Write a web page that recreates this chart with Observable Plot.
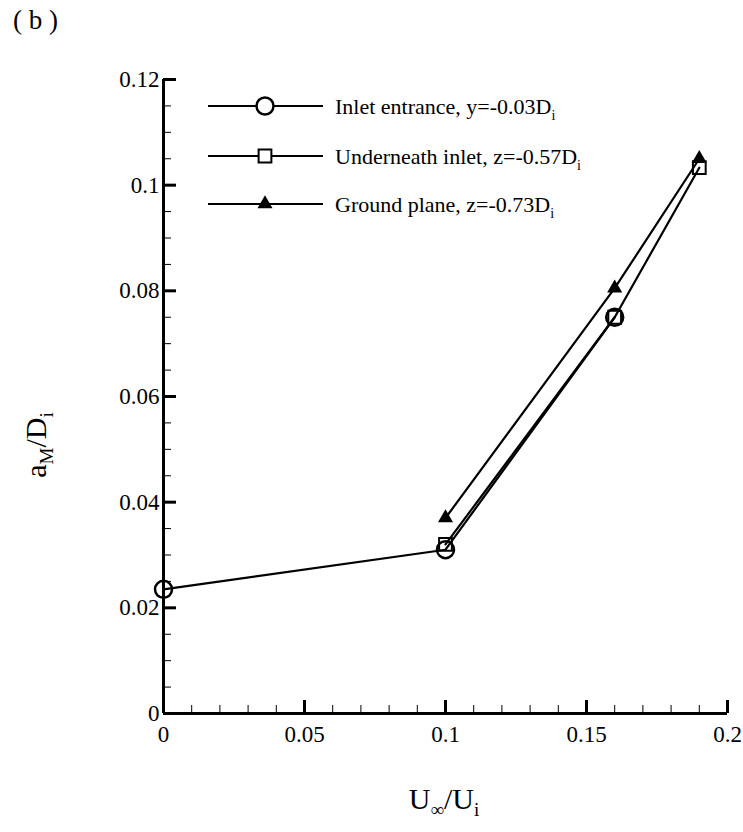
<!DOCTYPE html>
<html><head><meta charset="utf-8">
<script src="https://cdn.jsdelivr.net/npm/d3@7"></script>
<script src="https://cdn.jsdelivr.net/npm/@observablehq/plot@0.6"></script>
<style>body{margin:0;background:#fff} svg{display:block}</style>
</head><body><div id="chart"></div>
<script>
// ---- data ----
const inletX = [0, 0.1, 0.16];
const inletY = [0.0235, 0.031, 0.075];
const underX = [0.1, 0.16, 0.19];
const underY = [0.032, 0.075, 0.1033];
const groundX = [0.1, 0.16, 0.19];
const groundY = [0.037, 0.0805, 0.105];
const seriesNames = ["Inlet entrance, y=-0.03D", "Underneath inlet, z=-0.57D", "Ground plane, z=-0.73D"];
const seriesSub = ["i", "i", "i"];
const xMajor = [0, 0.05, 0.1, 0.15, 0.2];
const yMajor = [0, 0.02, 0.04, 0.06, 0.08, 0.1, 0.12];
const tickLabels = {0: "0", 0.02: "0.02", 0.04: "0.04", 0.05: "0.05", 0.06: "0.06", 0.08: "0.08", 0.1: "0.1", 0.12: "0.12", 0.15: "0.15", 0.2: "0.2"};

const xMinor = d3.ticks(0, 0.2, 20);
const yMinor = d3.ticks(0, 0.12, 30);

const rows = [];
[[inletX, inletY], [underX, underY], [groundX, groundY]].forEach(([xs, ys], s) => {
  xs.forEach((x, i) => rows.push({series: seriesNames[s], x, y: ys[i]}));
});

const W = 743, H = 832, mL = 163, mR = 16, mT = 79, mB = 119;
const innerW = W - mL - mR, innerH = H - mT - mB;
const font = '"Liberation Serif","Times New Roman",Times,serif';
const fmt = d => tickLabels[+d.toFixed(3)] ?? String(d);

const symR = {circle: 8.5, square: 7.2, triangle: 5.6};

const plot = Plot.plot({
  width: W, height: H,
  marginLeft: mL, marginRight: mR, marginTop: mT, marginBottom: mB,
  style: {fontFamily: font, background: "#fff", color: "#000", fontSize: "23px"},
  x: {domain: [0, 0.2]},
  y: {domain: [0, 0.12]},
  marks: [
    Plot.tickY(yMinor, {y: d => d, insetRight: innerW - 8, stroke: "#000", strokeWidth: 1}),
    Plot.tickY(yMajor, {y: d => d, insetRight: innerW - 13, stroke: "#000", strokeWidth: 3}),
    Plot.tickX(xMinor, {x: d => d, insetTop: innerH - 8, stroke: "#000", strokeWidth: 1}),
    Plot.tickX(xMajor, {x: d => d, insetTop: innerH - 13, stroke: "#000", strokeWidth: 3}),
    Plot.ruleX([0], {stroke: "#000", strokeWidth: 3}),
    Plot.ruleY([0], {stroke: "#000", strokeWidth: 3}),
    Plot.axisY({ticks: yMajor, tickSize: 0, tickPadding: 4, fontSize: 23, tickFormat: fmt, label: null, fill: "#000"}),
    Plot.axisX({ticks: xMajor, tickSize: 0, tickPadding: 12, fontSize: 23, tickFormat: fmt, label: null, fill: "#000"}),
    Plot.line(rows, {x: "x", y: "y", z: "series", stroke: "#000", strokeWidth: 2.2}),
    Plot.dot(rows.filter(d => d.series === seriesNames[0]), {x: "x", y: "y", symbol: "circle", r: symR.circle, stroke: "#000", strokeWidth: 2.5, fill: "none"}),
    Plot.dot(rows.filter(d => d.series === seriesNames[1]), {x: "x", y: "y", symbol: "square", r: symR.square, stroke: "#000", strokeWidth: 2, fill: "none"}),
    Plot.dot(rows.filter(d => d.series === seriesNames[2]), {x: "x", y: "y", symbol: "triangle", r: symR.triangle, fill: "#000", stroke: "none"})
  ]
});

const svg = d3.select(plot);
svg.attr("font-family", font);

// panel label
svg.append("text").attr("x", 13).attr("y", 29).attr("text-anchor", "start")
  .attr("font-size", 27).attr("fill", "#000").text("( b )");

// x title
const xt = svg.append("text").attr("x", 444).attr("y", 809)
  .attr("text-anchor", "middle").attr("font-size", 30).attr("fill", "#000");
xt.append("tspan").text("U");
xt.append("tspan").attr("font-size", 19).attr("dy", 7).text("∞");
xt.append("tspan").attr("dy", -7).text("/U");
xt.append("tspan").attr("font-size", 19).attr("dy", 7).text("i");

// y title
const yt = svg.append("text").attr("transform", `translate(46,445) rotate(-90)`)
  .attr("text-anchor", "middle").attr("font-size", 30).attr("fill", "#000");
yt.append("tspan").text("a");
yt.append("tspan").attr("font-size", 19).attr("dy", 7).text("M");
yt.append("tspan").attr("dy", -7).text("/D");
yt.append("tspan").attr("font-size", 19).attr("dy", 7).text("i");

// legend
const legY = [106, 156, 204];
const syms = [d3.symbolCircle, d3.symbolSquare, d3.symbolTriangle];
const rs = [symR.circle, symR.square, symR.triangle];
const lg = svg.append("g");
seriesNames.forEach((name, i) => {
  const y = legY[i];
  lg.append("line").attr("x1", 208).attr("x2", 323).attr("y1", y).attr("y2", y).attr("stroke", "#000").attr("stroke-width", 2.2);
  const p = lg.append("path").attr("d", d3.symbol(syms[i], rs[i] * rs[i] * Math.PI)()).attr("transform", `translate(265,${y})`);
  if (i === 2) p.attr("fill", "#000");
  else p.attr("fill", "#fff").attr("stroke", "#000").attr("stroke-width", i === 0 ? 2.5 : 2);
  const t = lg.append("text").attr("x", 335).attr("y", y + 8).attr("text-anchor", "start")
    .attr("font-size", 22).attr("fill", "#000");
  t.append("tspan").text(name);
  t.append("tspan").attr("font-size", 14).attr("dy", 6).text(seriesSub[i]);
});

document.getElementById("chart").appendChild(plot);
</script>
</body></html>
